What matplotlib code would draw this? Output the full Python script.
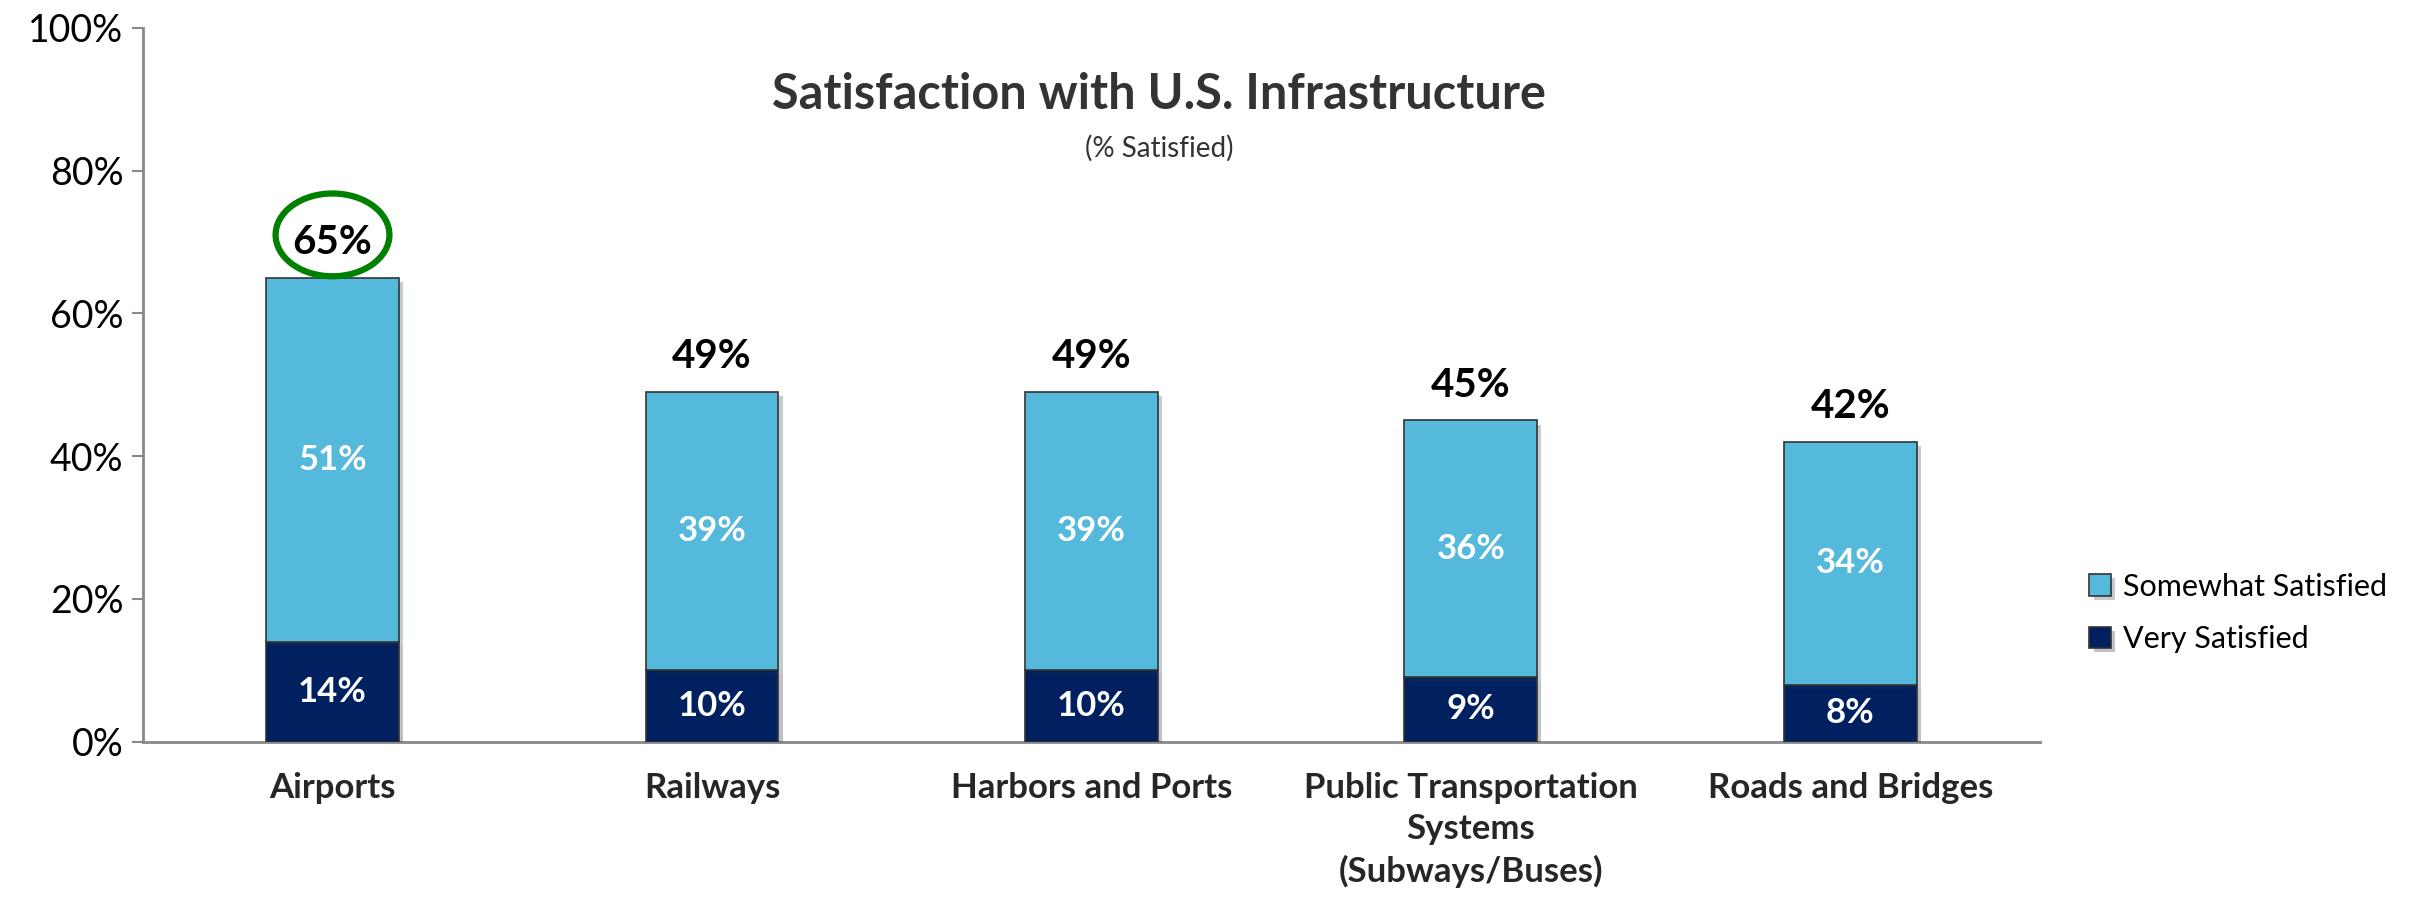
import matplotlib.pyplot as plt
import matplotlib.patheffects as pe
from matplotlib.patches import Ellipse
from matplotlib.ticker import PercentFormatter

# Data
categories = ['Airports', 'Railways', 'Harbors and Ports',
              'Public Transportation\nSystems\n(Subways/Buses)', 'Roads and Bridges']
very_satisfied = [14, 10, 10, 9, 8]
somewhat_satisfied = [51, 39, 39, 36, 34]
totals = [65, 49, 49, 45, 42]

light_blue = '#55B9DC'
navy = '#002060'

plt.rcParams['font.family'] = ['Lato', 'DejaVu Sans']

fig = plt.figure(figsize=(24.2, 9), dpi=100)
ax = fig.add_axes([0.059, 0.176, 0.784, 0.793])

x = range(len(categories))
shadow = [pe.SimplePatchShadow(offset=(3, -3), alpha=0.25), pe.Normal()]
bars_very = ax.bar(x, very_satisfied, 0.35, color=navy, edgecolor='#333333',
                   linewidth=1.2, label='Very Satisfied', zorder=3)
bars_some = ax.bar(x, somewhat_satisfied, 0.35, bottom=very_satisfied, color=light_blue,
                   edgecolor='#333333', linewidth=1.2, label='Somewhat Satisfied', zorder=3)
for b in list(bars_very) + list(bars_some):
    b.set_path_effects(shadow)

# Segment labels
for i in x:
    ax.text(i, very_satisfied[i] / 2, f'{very_satisfied[i]}%', ha='center', va='center',
            color='white', fontsize=25, fontweight='bold', zorder=4)
    ax.text(i, very_satisfied[i] + somewhat_satisfied[i] / 2, f'{somewhat_satisfied[i]}%',
            ha='center', va='center', color='white', fontsize=25, fontweight='bold', zorder=4)
    ax.annotate(f'{totals[i]}%', (i, totals[i]), xytext=(0, 12), textcoords='offset points',
                ha='center', va='bottom', fontsize=29, fontweight='bold', color='black')

# Highlight the top value
ax.add_patch(Ellipse((0, totals[0] + 6), 0.30, 11.6, fill=False, edgecolor='#008000',
                     linewidth=4.5, zorder=5))

ax.set_xlim(-0.5, 4.5)
ax.set_ylim(0, 100)
ax.yaxis.set_major_formatter(PercentFormatter(decimals=0))
ax.set_yticks(range(0, 101, 20))
ax.set_xticks(list(x))
ax.set_xticklabels(categories, fontsize=25, fontweight='bold', color='#262626', linespacing=1.35)
ax.tick_params(axis='x', length=0, pad=22)
ax.tick_params(axis='y', labelsize=27, length=8, width=1.5, color='#888888', pad=6)

for side in ['top', 'right']:
    ax.spines[side].set_visible(False)
for side in ['left', 'bottom']:
    ax.spines[side].set_color('#888888')
    ax.spines[side].set_linewidth(2)

fig.text(0.479, 0.895, 'Satisfaction with U.S. Infrastructure', ha='center', va='center',
         fontsize=35, fontweight='bold', color='#333333')
fig.text(0.479, 0.835, '(% Satisfied)', ha='center', va='center', fontsize=20, color='#333333')

handles = [bars_some, bars_very]
fig.legend(handles, ['Somewhat Satisfied', 'Very Satisfied'], loc='center left',
           bbox_to_anchor=(0.852, 0.319), frameon=False, fontsize=22, handlelength=0.7,
           handleheight=0.7, handletextpad=0.4, labelspacing=0.8)

fig.savefig('out.png', dpi=100)
